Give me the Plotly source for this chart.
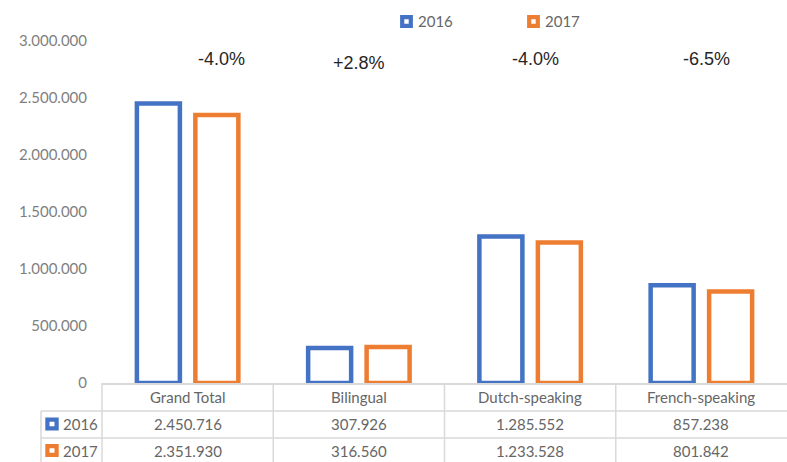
import plotly.graph_objects as go

# ---- data ----
categories = ["Grand Total", "Bilingual", "Dutch-speaking", "French-speaking"]
years = ["2016", "2017"]
values_2016 = [2450716, 307926, 1285552, 857238]
values_2017 = [2351930, 316560, 1233528, 801842]
change_labels = ["-4.0%", "+2.8%", "-4.0%", "-6.5%"]
y_ticks = [0, 500000, 1000000, 1500000, 2000000, 2500000, 3000000]

# ---- style ----
W, H = 787, 462
ML, MR, MT, MB = 102, 0, 41, 79
PW, PH = W - ML - MR, H - MT - MB
BLUE, ORANGE = "#4472C4", "#ED7D31"
GRID = "#d9d9d9"
TXT = "#666666"
FONT = "Lato"
colors = [BLUE, ORANGE]
series = [values_2016, values_2017]


def px(x):
    return (x - ML) / PW


def py(y):
    return (H - MB - y) / PH


fig = go.Figure()
for name, vals, col in zip(years, series, colors):
    fig.add_trace(go.Bar(
        x=categories, y=vals, name=name,
        marker=dict(color="white", line=dict(color=col, width=4.5)),
        showlegend=False,
    ))

shapes = []
annotations = []

# change labels above the groups (manually placed text boxes)
ann_dx = [0.195, 0.0, 0.03, 0.03]
ann_py = [59, 63, 59, 59]
for i, lab in enumerate(change_labels):
    annotations.append(dict(
        x=i + ann_dx[i], y=py(ann_py[i]), xref="x", yref="paper",
        text=lab, showarrow=False,
        font=dict(family="Liberation Sans, Arial", size=18, color="#262626"),
        xanchor="center", yanchor="middle",
    ))

# legend (manual, top)
leg_cx = [406.5, 533.5]
for name, col, cx in zip(years, colors, leg_cx):
    shapes.append(dict(type="rect", xref="paper", yref="paper",
                       x0=px(cx - 4.3), x1=px(cx + 4.3),
                       y0=py(21.5 + 4.3), y1=py(21.5 - 4.3),
                       line=dict(color=col, width=4.2), fillcolor="white"))
    annotations.append(dict(x=px(cx + 9), y=py(21.5), xref="paper", yref="paper",
                            text=name, showarrow=False, xanchor="left", yanchor="middle",
                            font=dict(family=FONT, size=15, color=TXT)))

# data table
n = len(categories)
row_lines = [411, 438]
left_edge = 41
bottom = H
for ry in row_lines:
    shapes.append(dict(type="line", xref="paper", yref="paper",
                       x0=px(left_edge), x1=1, y0=py(ry), y1=py(ry),
                       line=dict(color=GRID, width=1.5)))
# vertical lines
shapes.append(dict(type="line", xref="paper", yref="paper", x0=0, x1=0,
                   y0=0, y1=py(bottom), line=dict(color=GRID, width=1.5)))
shapes.append(dict(type="line", xref="paper", yref="paper", x0=px(left_edge), x1=px(left_edge),
                   y0=py(row_lines[0]), y1=py(bottom), line=dict(color=GRID, width=1.5)))
for k in range(1, n):
    xb = k / n
    shapes.append(dict(type="line", xref="paper", yref="paper", x0=xb, x1=xb,
                       y0=0, y1=py(bottom), line=dict(color=GRID, width=1.5)))

header_y = 397
row_y = [424.5, 451]
for i, c in enumerate(categories):
    annotations.append(dict(x=i, y=py(header_y), xref="x", yref="paper", text=c,
                            showarrow=False, xanchor="center", yanchor="middle",
                            font=dict(family=FONT, size=15, color=TXT)))
    for r, vals in enumerate(series):
        annotations.append(dict(x=i, y=py(row_y[r]), xref="x", yref="paper",
                                text=f"{vals[i]:,}".replace(",", "."),
                                showarrow=False, xanchor="center", yanchor="middle",
                                font=dict(family=FONT, size=15, color=TXT)))

# table legend keys
for r, (name, col) in enumerate(zip(years, colors)):
    cy = row_y[r] - 0.5
    shapes.append(dict(type="rect", xref="paper", yref="paper",
                       x0=px(52 - 4.6), x1=px(52 + 4.6),
                       y0=py(cy + 4.3), y1=py(cy - 4.3),
                       line=dict(color=col, width=4.2), fillcolor="white"))
    annotations.append(dict(x=px(61), y=py(cy), xref="paper", yref="paper", text=name,
                            showarrow=False, xanchor="left", yanchor="middle",
                            font=dict(family=FONT, size=15, color=TXT)))

fig.update_layout(
    width=W, height=H,
    margin=dict(l=ML, r=MR, t=MT, b=MB),
    paper_bgcolor="white", plot_bgcolor="white",
    barmode="group", bargap=0.317, bargroupgap=0.265,
    separators=",.",
    font=dict(family=FONT, color=TXT),
    shapes=shapes, annotations=annotations,
    xaxis=dict(type="category", range=[-0.5, n - 0.5], showticklabels=False,
               showline=True, linecolor=GRID, linewidth=1.5, ticks="",
               showgrid=False, zeroline=False, fixedrange=True),
    yaxis=dict(range=[0, 3000000], tickvals=y_ticks, tickformat=",d",
               showgrid=False, zeroline=False, showline=False, ticks="",
               ticklabelstandoff=14,
               tickfont=dict(family=FONT, size=15, color="#7f7f7f")),
)

fig.write_html("out.html")
